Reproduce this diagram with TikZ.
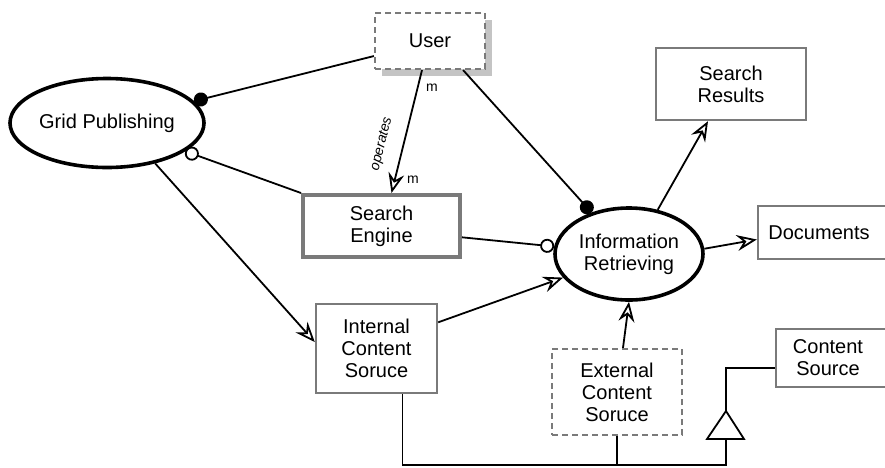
\documentclass[tikz,border=0pt]{standalone}
\usepackage{fontspec}
\setmainfont{Liberation Sans}
\usetikzlibrary{arrows.meta,calc,shapes.geometric,shadows}
\definecolor{bordergray}{HTML}{7A7A7A}
\definecolor{shadowgray}{HTML}{C4C4C4}
\begin{document}
\begin{tikzpicture}[x=0.5pt,y=-0.5pt,
  every node/.style={font=\fontsize{10}{11}\selectfont, align=center, inner sep=0pt},
  usecase/.style={ellipse, draw=black, line width=1.8pt, fill=white},
  cbox/.style={rectangle, draw=bordergray, line width=1.2pt, fill=white},
  dbox/.style={rectangle, draw=bordergray, line width=1.1pt, dash pattern=on 3pt off 2pt, fill=white},
  conn/.style={draw=black, line width=0.9pt},
  arr/.style={-{Stealth[open, length=10pt, width=8pt, inset=3.5pt]}},
  dotend/.style={-{Circle[length=7pt]}},
  ocircend/.style={-{Circle[open, length=7pt, fill=white]}},
  small/.style={font=\fontsize{7}{8}\selectfont}
]
\useasboundingbox (0,0) rectangle (885,467);

% nodes
\node[dbox, minimum width=55pt, minimum height=28pt,
      drop shadow={shadow xshift=3.5pt, shadow yshift=-3.5pt, fill=shadowgray, opacity=1}]
      (user) at (430,41) {User};
\node[usecase, minimum width=97pt, minimum height=44.5pt] (grid) at (107,123) {Grid Publishing};
\node[cbox, line width=2pt, minimum width=78.5pt, minimum height=31pt] (se) at (381.5,226) {Search\\Engine};
\node[usecase, minimum width=74pt, minimum height=46pt] (ir) at (629,254) {Information\\Retrieving};
\node[cbox, minimum width=75pt, minimum height=36pt] (sr) at (731,84) {Search\\Results};
\node[cbox, minimum width=71pt, minimum height=26.5pt, text width=60pt] (doc) at (829,232.5) {\hspace*{-10pt}Documents};
\node[cbox, minimum width=60.5pt, minimum height=44.5pt] (int) at (376.5,348.5) {Internal\\Content\\Soruce};
\node[dbox, minimum width=65pt, minimum height=43pt] (ext) at (617,392) {External\\Content\\Soruce};
\node[cbox, minimum width=62pt, minimum height=29pt, text width=50pt] (cs) at (838,358) {\hspace*{-10pt}Content\\\hspace*{-10pt}Source};

% connectors
\draw[conn, dotend] (user.195) -- (grid);
\draw[conn, ocircend] (se.north west) -- (grid);
\draw[conn, arr] ($(user.south)+(-8,0)$) -- ($(se.north)+(10,0)$);
\node[small] (m1) at (432,88) {m};
\node[small] (m2) at (413,180) {m};
\node[small, font=\fontsize{7}{8}\selectfont\itshape, rotate=76] (op) at (382,144) {operates};
\draw[conn, dotend] ($(user.south east)+(-23,0)$) -- (ir);
\draw[conn, ocircend] (se.-8) -- (ir);
\draw[conn, arr] (ir.57) -- ($(sr.south)+(-23,0)$);
\draw[conn, arr] (ir.4) -- ($(doc.west)+(0,7)$);
\draw[conn, arr] (grid.-40) -- (int.174);
\draw[conn, arr] (int.23) -- (ir);
\draw[conn, arr] ($(ext.north)+(6,0)$) -- (ir.south);

% generalization
\coordinate (apex) at (726,411);
\coordinate (tbl) at (707,439);
\coordinate (tbr) at (744,439);
\coordinate (tbase) at (726,439);
\coordinate (bus) at (726,465);
\draw[conn] ($(cs.west)+(0,10)$) -| (apex);
\draw[conn] ($(int.south)+(26,0)$) |- (bus) -- (tbase);
\draw[conn] (ext.south) -- (ext.south |- bus);
\draw[conn, fill=white] (apex) -- (tbl) -- (tbr) -- cycle;
\end{tikzpicture}
\end{document}
